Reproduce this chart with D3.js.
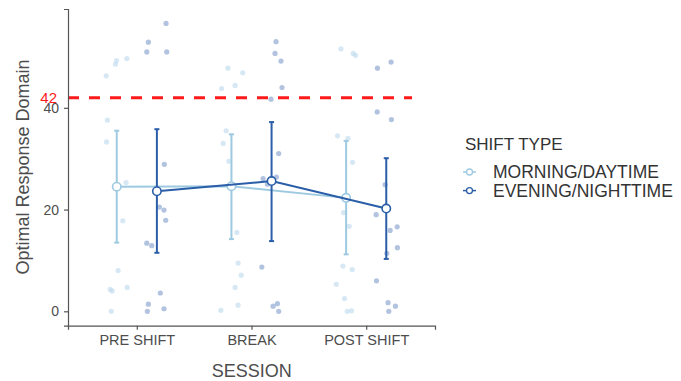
<!DOCTYPE html>
<html>
<head>
<meta charset="utf-8">
<script src="https://cdn.jsdelivr.net/npm/d3@7"></script>
<style>
  html, body { margin: 0; padding: 0; background: #fff; }
  svg { display: block; font-family: "Liberation Sans", Arial, Helvetica, sans-serif; }
</style>
</head>
<body>
<svg id="chart" width="681" height="381"></svg>
<script>
// Sessions on the x axis and the two shift groups
const sessions = ["PRE SHIFT", "BREAK", "POST SHIFT"];
const shiftTypes = ["MORNING/DAYTIME", "EVENING/NIGHTTIME"];

// Group means and error-bar limits per session
const meanMorning = [24.5, 24.6, 22.3];
const lowMorning  = [13.5, 14.2, 11.2];
const highMorning = [35.5, 34.8, 33.5];
const meanEvening = [23.6, 25.6, 20.2];
const lowEvening  = [11.5, 13.8, 10.3];
const highEvening = [35.8, 37.2, 30.1];

// Individual scores per session (one inner list per session)
const scoresMorning = [
  [46.3, 48.6, 49.3, 49.7, 37.6, 33.3, 25.3, 17.8, 8.0, 4.3, 4.0, 4.7, 0.0],
  [47.8, 46.9, 43.8, 44.4, 35.5, 33.0, 29.5, 15.5, 9.5, 7.1, 4.7, 1.2, 0.2],
  [51.6, 50.7, 50.3, 34.5, 34.0, 29.3, 19.4, 16.7, 8.9, 8.2, 5.3, 2.5, 0.0, 0.1]
];
const scoresEvening = [
  [56.6, 52.9, 51.0, 51.0, 28.9, 20.5, 19.9, 17.9, 13.4, 12.9, 3.6, 1.4, 0.0, 0.5],
  [53.0, 50.7, 49.2, 44.0, 41.7, 31.0, 26.1, 25.0, 26.4, 8.7, 1.0, 1.5, 0.0],
  [47.8, 49.0, 39.2, 37.7, 24.9, 19.0, 15.9, 16.6, 12.5, 11.4, 6.0, 1.7, 1.0, 0.0]
];
// Horizontal jitter of each score, in session units from the session centre
const jitterMorning = [
  [-0.267, -0.186, -0.177, -0.087, -0.256, -0.264, -0.093, -0.122, -0.163, -0.232, -0.215, -0.084, -0.223],
  [-0.206, -0.076, -0.261, -0.143, -0.221, -0.247, -0.197, -0.128, -0.117, -0.090, -0.143, -0.117, -0.267],
  [-0.220, -0.113, -0.093, -0.250, -0.159, -0.119, -0.197, -0.148, -0.203, -0.122, -0.261, -0.189, -0.165, -0.128]
];
const jitterEvening = [
  [0.255, 0.101, 0.087, 0.261, 0.240, 0.197, 0.237, 0.252, 0.087, 0.130, 0.205, 0.101, 0.092, 0.237],
  [0.214, 0.205, 0.257, 0.266, 0.170, 0.237, 0.101, 0.139, 0.217, 0.090, 0.188, 0.226, 0.237],
  [0.098, 0.217, 0.096, 0.220, 0.165, 0.087, 0.209, 0.270, 0.272, 0.180, 0.090, 0.191, 0.255, 0.197]
];

// Reference threshold and axis ticks
const cutoff = 42;
const yTicks = [0, 20, 40];

const svg = d3.select("#chart");

const x = d3.scalePoint().domain(sessions).range([68, 435]).padding(0.6);
const y = d3.scaleLinear().domain([-2.83, 59.43]).range([325.7, 9]);
const dodge = 0.175;

const colLight = "#9ecae1";
const colDark = "#2a5ea8";
const axisCol = "#555";
const textCol = "#4d4d4d";

const groups = [
  { name: shiftTypes[0], color: colLight, ptColor: "#bcd8ee", ptAlpha: 0.6, side: -1,
    mean: meanMorning, low: lowMorning, high: highMorning, scores: scoresMorning, jitter: jitterMorning },
  { name: shiftTypes[1], color: colDark, ptColor: "#7f9bcc", ptAlpha: 0.6, side: 1,
    mean: meanEvening, low: lowEvening, high: highEvening, scores: scoresEvening, jitter: jitterEvening }
];

const cx = (s, off) => x(s) + off * x.step();

// Raw jittered scores
groups.forEach(g => {
  const pts = [];
  sessions.forEach((s, i) => g.scores[i].forEach((v, j) => pts.push({ s, v, off: g.jitter[i][j] })));
  svg.append("g").selectAll("circle").data(pts).join("circle")
    .attr("cx", d => cx(d.s, d.off))
    .attr("cy", d => y(d.v))
    .attr("r", 2.6)
    .attr("fill", g.ptColor)
    .attr("fill-opacity", g.ptAlpha);
});

// Threshold line
svg.append("line")
  .attr("x1", x.range()[0]).attr("x2", cx(sessions[2], 0.4))
  .attr("y1", y(cutoff)).attr("y2", y(cutoff))
  .attr("stroke", "#ff1a1a").attr("stroke-width", 3)
  .attr("stroke-dasharray", "11,10");

// Mean lines, error bars and mean markers
groups.forEach(g => {
  const data = sessions.map((s, i) => ({ s, m: g.mean[i], lo: g.low[i], hi: g.high[i] }));
  const px = d => cx(d.s, g.side * dodge);
  svg.append("path").datum(data)
    .attr("fill", "none").attr("stroke", g.color).attr("stroke-width", 2)
    .attr("d", d3.line().x(px).y(d => y(d.m)));
  const eb = svg.append("g").attr("stroke", g.color).attr("stroke-width", 2);
  eb.selectAll("line.v").data(data).join("line").attr("class", "v")
    .attr("x1", px).attr("x2", px).attr("y1", d => y(d.lo)).attr("y2", d => y(d.hi));
  eb.selectAll("line.t").data(data).join("line").attr("class", "t")
    .attr("x1", d => px(d) - 2.5).attr("x2", d => px(d) + 2.5).attr("y1", d => y(d.hi)).attr("y2", d => y(d.hi));
  eb.selectAll("line.b").data(data).join("line").attr("class", "b")
    .attr("x1", d => px(d) - 2.5).attr("x2", d => px(d) + 2.5).attr("y1", d => y(d.lo)).attr("y2", d => y(d.lo));
  svg.append("g").selectAll("circle").data(data).join("circle")
    .attr("cx", px).attr("cy", d => y(d.m)).attr("r", 4.2)
    .attr("fill", "#fff").attr("stroke", g.color).attr("stroke-width", 1.6);
});

// Axes
const yAxis = svg.append("g").attr("transform", "translate(68,0)")
  .call(d3.axisLeft(y).tickValues(yTicks).tickSize(4).tickPadding(5));
const xAxis = svg.append("g").attr("transform", "translate(0,325.7)")
  .call(d3.axisBottom(x).tickSize(4).tickPadding(5));
[yAxis, xAxis].forEach(a => {
  a.select(".domain").attr("stroke", axisCol).attr("stroke-width", 1.2);
  a.selectAll(".tick line").attr("stroke", axisCol).attr("stroke-width", 1.2);
  a.selectAll(".tick text").attr("fill", textCol).attr("font-family", "Liberation Sans, Arial, sans-serif");
});
yAxis.selectAll(".tick text").attr("font-size", 14);
xAxis.selectAll(".tick text").attr("font-size", 14.5);

// Threshold label
svg.append("text")
  .attr("x", 57).attr("y", y(cutoff)).attr("dy", "0.36em")
  .attr("text-anchor", "end").attr("font-size", 15).attr("fill", "#ff1a1a")
  .text(cutoff);

// Axis titles
svg.append("text")
  .attr("x", 251.7).attr("y", 376.5).attr("text-anchor", "middle")
  .attr("font-size", 18).attr("fill", textCol).text("SESSION");
svg.append("text")
  .attr("transform", "translate(29,167) rotate(-90)").attr("text-anchor", "middle")
  .attr("font-size", 18).attr("fill", textCol).text("Optimal Response Domain");

// Legend
const legend = svg.append("g");
legend.append("text").attr("x", 465).attr("y", 150)
  .attr("font-size", 17).attr("fill", "#333").text("SHIFT TYPE");
groups.forEach((g, i) => {
  const ly = 172 + i * 18.6;
  legend.append("line").attr("x1", 463).attr("x2", 476).attr("y1", ly).attr("y2", ly)
    .attr("stroke", g.color).attr("stroke-width", 1.5);
  legend.append("circle").attr("cx", 469.5).attr("cy", ly).attr("r", 3)
    .attr("fill", "#fff").attr("stroke", g.color).attr("stroke-width", 1.3);
  legend.append("text").attr("x", 493).attr("y", ly).attr("dy", "0.36em")
    .attr("font-size", 17.5).attr("fill", "#333").text(g.name);
});
</script>
</body>
</html>
